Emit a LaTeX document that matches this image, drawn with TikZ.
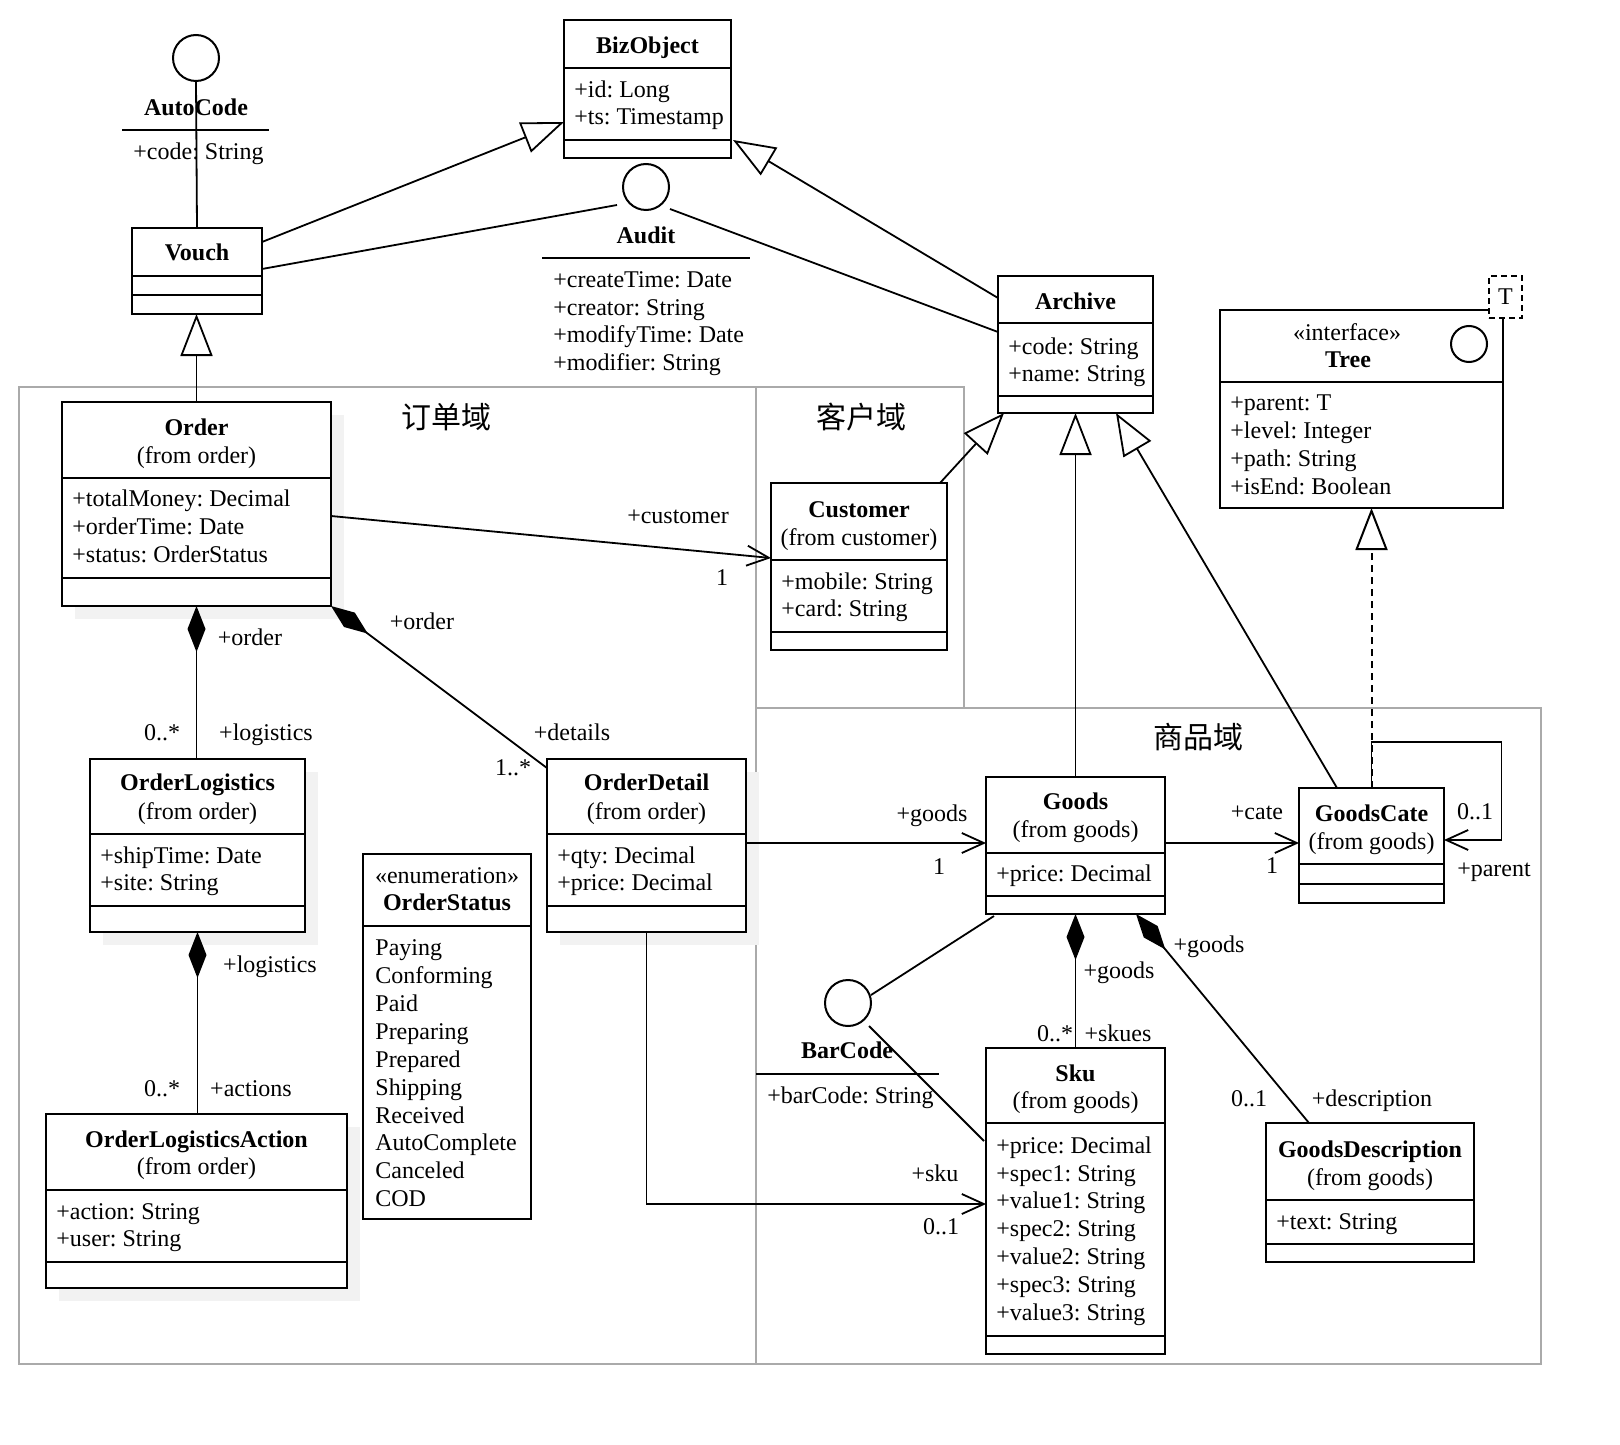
\documentclass[tikz,border=0pt]{standalone}
\usepackage{fontspec}
\setmainfont{Liberation Serif}
\newfontfamily\cjkfont{Noto Sans CJK SC}
\usetikzlibrary{arrows.meta,fit,calc}
\definecolor{shadowc}{RGB}{242,242,242}
\definecolor{framec}{RGB}{170,170,170}
\frenchspacing
\newcommand\umlcls[6]{%
  \node[clsbox, fit={(#2,#3) (#4,#5)}] (#1) {};
  \foreach \dv in {#6} {\draw[clsline] (#2,\dv) -- (#4,\dv);}%
}
\newcommand\shad[4]{\fill[shadowc] (#1+13,#2+13) rectangle (#3+13,#4+13);}
\newcommand\attrs[5]{%
  \foreach \tx [count=\idx from 0] in {#5} {\node[attr] (#1\idx) at (#2,#3+#4*\idx) {\tx};}%
}
\begin{document}
\begin{tikzpicture}[x=0.5pt,y=-0.5pt,line join=miter,
  txt/.style={inner sep=0pt, anchor=mid, yshift=-1.5pt, font=\fontsize{12}{14}\selectfont\frenchspacing},
  ttl/.style={txt, font=\fontsize{12}{14}\selectfont\bfseries},
  attr/.style={txt, anchor=mid west},
  clsbox/.style={draw, line width=1.2pt, fill=white, inner sep=0pt, outer sep=0pt, rectangle},
  clsline/.style={line width=1.2pt},
  iface/.style={circle, draw, line width=1pt, fill=white, inner sep=0pt, outer sep=0pt, minimum size=23pt},
  conn/.style={line width=0.9pt},
  gen/.style={conn, -{Triangle[length=21pt,width=16pt,fill=white]}},
  realz/.style={gen, line width=1pt, dash pattern=on 3.5pt off 2.5pt},
  nav/.style={conn, -{Straight Barb[length=11pt,width=10pt]}},
  comp/.style={conn, {Diamond[length=23pt,width=9pt]}-},
  domframe/.style={draw=framec, line width=1pt},
  dom/.style={inner sep=0pt, font={\cjkfont\fontsize{15}{18}\selectfont}},
]
\useasboundingbox (0,0) rectangle (1620,1444);

% domain frames
\draw[domframe] (19,387) rectangle (756,1364);
\draw[domframe] (756,387) rectangle (964,708);
\draw[domframe] (756,708) rectangle (1541,1364);
\node[dom] (lblOrder) at (446,417) {订单域};
\node[dom] (lblCust) at (861,417) {客户域};
\node[dom] (lblGoods) at (1198,737) {商品域};

% shadows
\shad{62}{402}{331}{606}
\shad{90}{759}{305}{932}
\shad{547}{759}{746}{932}
\shad{46}{1114}{347}{1288}

% BizObject
\umlcls{bizobj}{564}{20}{731}{158}{68,140}
\node[ttl] (bizobjT) at (647.5,46) {BizObject};
\attrs{bizobjA}{574}{90}{27}{+id: Long,+ts: Timestamp}

% Vouch
\umlcls{vouch}{132}{228}{262}{314}{276,295}
\node[ttl] (vouchT) at (197,253) {Vouch};

% Archive
\umlcls{archive}{998}{276}{1153}{413}{323,396}
\node[ttl] (archiveT) at (1075.5,302) {Archive};
\attrs{archiveA}{1008}{347}{27}{+code: String,+name: String}

% Tree
\umlcls{tree}{1220}{310}{1503}{508}{382}
\node[txt] (treeS) at (1347,333) {«interface»};
\node[ttl] (treeT) at (1348,360) {Tree};
\node[iface, minimum size=18pt] (treeI) at (1469,344) {};
\attrs{treeA}{1230}{403}{28}{+parent: T,+level: Integer,+path: String,+isEnd: Boolean}
\node[draw, dash pattern=on 3pt off 2pt, line width=1pt, fill=white, inner sep=0pt, outer sep=0pt, fit={(1489,276) (1522,318)}] (tparam) {};
\node[txt] (tparamT) at (1505.5,297) {T};

% Order
\umlcls{order}{62}{402}{331}{606}{478,578}
\node[ttl] (orderT) at (196.5,428) {Order};
\node[txt] (orderF) at (196.5,456) {(from order)};
\attrs{orderA}{72}{499}{28}{+totalMoney: Decimal,+orderTime: Date,+status: OrderStatus}

% Customer
\umlcls{customer}{771}{483}{947}{650}{560,632}
\node[ttl] (customerT) at (859,510) {Customer};
\node[txt] (customerF) at (859,538) {(from customer)};
\attrs{customerA}{781}{582}{27}{+mobile: String,+card: String}

% OrderLogistics
\umlcls{ologi}{90}{759}{305}{932}{834,906}
\node[ttl] (ologiT) at (197.5,783) {OrderLogistics};
\node[txt] (ologiF) at (197.5,812) {(from order)};
\attrs{ologiA}{100}{856}{27}{+shipTime: Date,+site: String}

% OrderDetail
\umlcls{odetail}{547}{759}{746}{932}{834,906}
\node[ttl] (odetailT) at (646.5,783) {OrderDetail};
\node[txt] (odetailF) at (646.5,812) {(from order)};
\attrs{odetailA}{557}{856}{27}{+qty: Decimal,+price: Decimal}

% OrderStatus
\umlcls{ostatus}{363}{854}{531}{1219}{926}
\node[txt] (ostatusS) at (447,876) {«enumeration»};
\node[ttl] (ostatusT) at (447,903) {OrderStatus};
\attrs{ostatusA}{375}{948}{27.9}{Paying,Conforming,Paid,Preparing,Prepared,Shipping,Received,AutoComplete,Canceled,COD}

% OrderLogisticsAction
\umlcls{oaction}{46}{1114}{347}{1288}{1190,1262}
\node[ttl] (oactionT) at (196.5,1140) {OrderLogisticsAction};
\node[txt] (oactionF) at (196.5,1167) {(from order)};
\attrs{oactionA}{56}{1212}{27}{+action: String,+user: String}

% Goods
\umlcls{goods}{986}{777}{1165}{914}{853,896}
\node[ttl] (goodsT) at (1075.5,802) {Goods};
\node[txt] (goodsF) at (1075.5,830) {(from goods)};
\attrs{goodsA}{996}{874}{27}{+price: Decimal}

% GoodsCate
\umlcls{gcate}{1299}{788}{1444}{903}{864,884}
\node[ttl] (gcateT) at (1371.5,814) {GoodsCate};
\node[txt] (gcateF) at (1371.5,842) {(from goods)};

% Sku
\umlcls{sku}{986}{1048}{1165}{1354}{1123,1336}
\node[ttl] (skuT) at (1075.5,1073.5) {Sku};
\node[txt] (skuF) at (1075.5,1101) {(from goods)};
\attrs{skuA}{996}{1145.5}{27.9}{+price: Decimal,+spec1: String,+value1: String,+spec2: String,+value2: String,+spec3: String,+value3: String}

% GoodsDescription
\umlcls{gdesc}{1266}{1123}{1474}{1262}{1200,1244}
\node[ttl] (gdescT) at (1370,1150) {GoodsDescription};
\node[txt] (gdescF) at (1370,1177.5) {(from goods)};
\attrs{gdescA}{1276}{1222}{27}{+text: String}

% Interfaces
\node[iface] (autocode) at (196,58) {};
\node[ttl] (autocodeT) at (196,108) {AutoCode};
\draw[conn] (122,130) -- (269,130);
\node[attr] (autocodeA) at (133,152) {+code: String};

\node[iface] (audit) at (646,187) {};
\node[ttl] (auditT) at (646,236) {Audit};
\draw[conn] (542,258) -- (750,258);
\attrs{auditA}{553}{280}{27.7}{+createTime: Date,+creator: String,+modifyTime: Date,+modifier: String}

\node[iface] (barcode) at (848,1003) {};
\node[ttl] (barcodeT) at (847,1051) {BarCode};
\draw[conn] (756,1074) -- (939,1074);
\node[attr] (barcodeA) at (767,1096) {+barCode: String};

% Connectors
\draw[conn] (autocode.south) -- (vouch.north);
\draw[gen] ($(vouch.north east)+(0,14)$) -- ($(bizobj.north west)+(0,102)$);
\draw[conn] ($(vouch.north east)+(0,41)$) -- ($(audit.center)+(-29,18)$);
\draw[conn] ($(audit.center)+(24,22)$) -- ($(archive.north west)+(0,56)$);
\draw[gen] ($(archive.north west)+(0,22)$) -- ($(bizobj.north east)+(2,120)$);
\draw[gen] (order.north) -- (order.north |- vouch.south);
\draw[nav] ($(order.north east)+(0,114)$) -- ($(customer.north west)+(0,75)$);
\draw[gen] ($(customer.north east)+(-7,0)$) -- ($(archive.south west)+(6,0)$);
\draw[gen] (goods.north) -- (archive.south);
\draw[gen] ($(gcate.north west)+(38,0)$) -- ($(archive.south east)+(-37,0)$);
\draw[realz] (gcate.north) -- (gcate.north |- tree.south);
\draw[nav] (gcate.north) -- ++(0,-46) -- ++(130,0) |- ($(gcate.north east)+(0,52)$);
\draw[comp] (order.south) -- (order.south |- ologi.north);
\draw[comp] (order.south east) -- ($(odetail.north west)+(0,9)$);
\draw[comp] (ologi.south) -- (ologi.south |- oaction.north);
\draw[nav] ($(odetail.north east)+(0,84)$) -- ($(goods.north west)+(0,66)$);
\draw[nav] (odetail.south) |- ($(sku.north west)+(0,156)$);
\draw[nav] ($(goods.north east)+(0,66)$) -- ($(gcate.north west)+(0,55)$);
\draw[comp] (goods.south) -- (sku.north);
\draw[comp] ($(goods.south east)+(-29,0)$) -- ($(gdesc.north west)+(43,0)$);
\draw[conn] ($(goods.south west)+(8,2)$) -- ($(barcode.center)+(23,-8)$);
\draw[conn] ($(barcode.center)+(21,23)$) -- ($(sku.north west)+(-2,93)$);

% Role and multiplicity labels
\node[txt] (l1) at (678,516) {+customer};
\node[txt] (l2) at (722,578) {1};
\node[txt] (l3) at (250,638) {+order};
\node[txt] (l4) at (162,733) {0..*};
\node[txt] (l5) at (266,733) {+logistics};
\node[txt] (l6) at (422,622) {+order};
\node[txt] (l7) at (572,733) {+details};
\node[txt] (l8) at (513,768) {1..*};
\node[txt] (l9) at (270,965) {+logistics};
\node[txt] (l10) at (162,1089) {0..*};
\node[txt] (l11) at (251,1089) {+actions};
\node[txt] (l12) at (932,814) {+goods};
\node[txt] (l13) at (939,867) {1};
\node[txt] (l14) at (1257,812) {+cate};
\node[txt] (l15) at (1272,866) {1};
\node[txt] (l16) at (1475,812) {0..1};
\node[txt] (l17) at (1494,869) {+parent};
\node[txt] (l18) at (1119,971) {+goods};
\node[txt] (l19) at (1055,1034) {0..*};
\node[txt] (l20) at (1118,1034) {+skues};
\node[txt] (l21) at (1209,945) {+goods};
\node[txt] (l22) at (1249,1099) {0..1};
\node[txt] (l23) at (1372,1099) {+description};
\node[txt] (l24) at (935,1174) {+sku};
\node[txt] (l25) at (941,1227) {0..1};
\end{tikzpicture}
\end{document}
